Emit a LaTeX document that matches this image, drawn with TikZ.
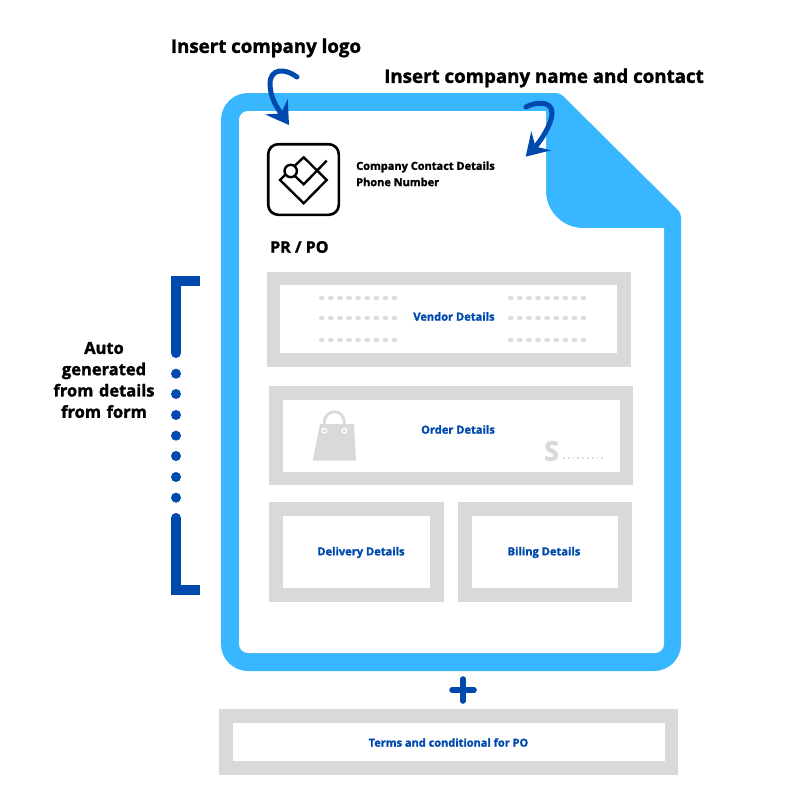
\documentclass[tikz,border=0pt]{standalone}
\usepackage{fontspec}
\setmainfont[BoldFeatures={FakeBold=1.6}]{Open Sans}
\usetikzlibrary{arrows.meta}
\definecolor{docblue}{HTML}{38B6FF}
\definecolor{darkblue}{HTML}{004AAD}
\definecolor{boxgrey}{HTML}{D9D9D9}
\definecolor{dashgrey}{HTML}{DDDDDD}
\newcommand{\sizedfont}[1]{\fontsize{#1}{#1}\selectfont\bfseries}

\begin{document}
\begin{tikzpicture}[x=1pt, y=-1pt,
    >={Stealth[length=22pt, width=27pt, inset=8pt]},
    greybox/.style={draw=boxgrey, line width=13.5pt},
    bluelabel/.style={text=darkblue, inner sep=0pt, font=\sizedfont{#1}},
    blacklabel/.style={inner sep=0pt, font=\sizedfont{#1}},
    handarrow/.style={->, darkblue, line width=5pt, line cap=round},
    filldash/.style={dashgrey, line width=3.2pt, line cap=round, dash pattern=on 2.4pt off 6.7pt},
    darkbar/.style={darkblue, line width=10pt}]
  \useasboundingbox (0,0) rectangle (800,800);
  % documento
  \fill[docblue] (221,300) [rounded corners=27pt] -- (221,93) [rounded corners=4pt] -- (560,93) -- (681,213) [rounded corners=27pt] -- (681,671) -- (221,671) -- cycle;
  \fill[white] (239,300) [rounded corners=9pt] -- (239,111) [sharp corners] -- (546,111) [rounded corners=37pt] -- (546,228) [sharp corners] -- (664,228) [rounded corners=9pt] -- (664,653) -- (239,653) -- cycle;
  % logo
  \draw[line width=2.6pt, rounded corners=10pt] (268.2,144.2) rectangle (338.8,214.8);
  \draw[line width=2.4pt] (285,175) -- (280,180) -- (303.7,203.3) -- (326.7,180) -- (303.7,157.3) -- (295,165.5);
  \draw[line width=2.4pt] (326.7,160.7) -- (303.7,184.3) -- (291.7,173);
  \draw[line width=2.4pt, fill=white] (290.7,171) circle (6.2pt);
  % cajas grises
  \foreach \xa/\ya/\xb/\yb in {273.5/278.5/624/360, 276/393/626.5/478.5, 276/509/437/595, 465/509/625/595, 226/716/671.5/768}{
    \draw[greybox] (\xa,\ya) rectangle (\xb,\yb);}
  % lineas de relleno
  \foreach \x in {320.5,509.5}{
    \foreach \y in {298,318,340}{
      \draw[filldash] (\x,\y) -- ++(78,0);}}
  % bolsa
  \fill[boxgrey] (320,424) -- (354,424) -- (356,460.7) -- (312.7,460.7) -- cycle;
  \draw[boxgrey, line width=2.8pt] (324.3,430) -- (324.3,423) .. controls (324.3,408) and (344.3,408) .. (344.3,423) -- (344.3,430);
  \foreach \x in {324.3,344.3}{
    \draw[white, line width=1.3pt] (\x,430.7) circle (2.4pt);}
  % precio
  \node[inner sep=0pt, text=boxgrey, font=\sizedfont{27}] (dollar) at (551.5,451) {S};
  \draw[dashgrey, line width=1.6pt, dash pattern=on 1.8pt off 3pt] (563,458) -- (604,458);
  % corchete y puntos
  \draw[darkbar] (199.5,281) -- (176,281) -- (176,353);
  \fill[darkblue] (176,353) circle (5pt);
  \foreach \y in {373.7,394,415,435.7,456,477,497.7}{
    \fill[darkblue] (176,\y) circle (5pt);}
  \fill[darkblue] (176,518) circle (5pt);
  \draw[darkbar] (176,518) -- (176,590) -- (199.5,590);
  % signo mas
  \draw[darkblue, line width=5.6pt, line cap=round] (452,690) -- (474,690);
  \draw[darkblue, line width=5.6pt, line cap=round] (463,679) -- (463,701);
  % textos
  \node[blacklabel=18.7] (logolab) at (266,48) {Insert company logo};
  \node[blacklabel=18.7] (namelab) at (544,78) {Insert company name and contact};
  \node[blacklabel=11, anchor=west] (contactlab) at (356,167) {Company Contact Details};
  \node[blacklabel=11, anchor=west] (phonelab) at (356,182) {Phone Number};
  \node[blacklabel=16, anchor=west] (prpo) at (270,247) {PR / PO};
  \node[align=center, inner sep=0pt, text width=110pt, font=\fontsize{16.5}{21.3}\selectfont\bfseries] (autolab) at (104,380) {Auto\\generated\\from details\\from form};
  \node[bluelabel=11.1] (vendorlab) at (454,316.5) {Vendor Details};
  \node[bluelabel=11.1] (orderlab) at (458,429.5) {Order Details};
  \node[bluelabel=11.1] (deliverylab) at (361,552.5) {Delivery Details};
  \node[bluelabel=11.1] (billinglab) at (544,552.5) {Biling Details};
  \node[bluelabel=11] (termslab) at (448.5,742.5) {Terms and conditional for PO};
  % flechas
  \coordinate (logostart) at (297,77);
  \coordinate (logotip) at (289,125);
  \coordinate (namestart) at (526,107);
  \coordinate (nametip) at (525.7,156.7);
  \draw[handarrow] (logostart) .. controls (285,68) and (270,68) .. (270,84) .. controls (270,98) and (278,109) .. (logotip);
  \draw[handarrow] (namestart) .. controls (535,102) and (552,100) .. (552,113) .. controls (552,125) and (539,143) .. (nametip);
\end{tikzpicture}
\end{document}
